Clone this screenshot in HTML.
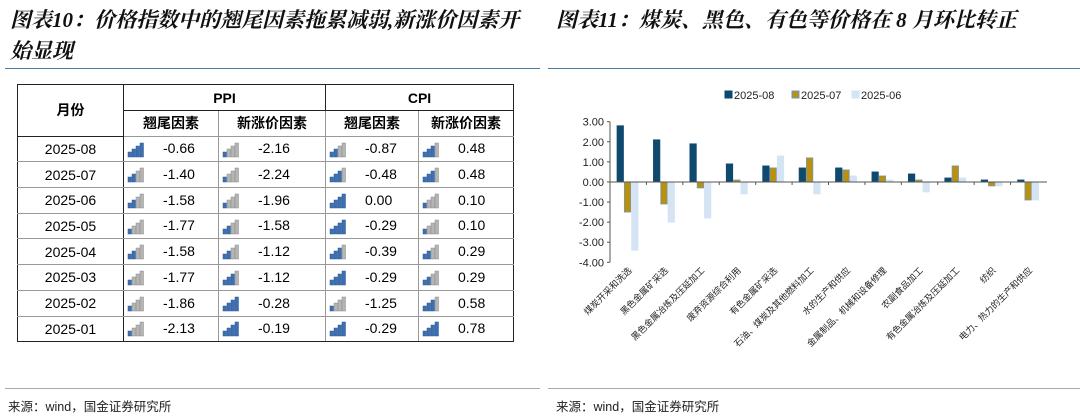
<!DOCTYPE html>
<html><head><meta charset="utf-8">
<style>
body{margin:0;width:1080px;height:416px;background:#fff;font-family:"Liberation Sans","Noto Sans CJK SC",sans-serif;position:relative;overflow:hidden}
.title{position:absolute;font-family:"Liberation Serif","Noto Serif CJK SC",serif;font-style:italic;font-weight:bold;font-size:21px;color:#111;line-height:31px;white-space:nowrap}
table{position:absolute;left:17px;top:84px;border-collapse:collapse;font-size:14px}
td{border:1px solid #999;text-align:center;padding:0;height:24.7px}
.b{border:1.5px solid #222}
.ic{display:inline-block;vertical-align:middle;margin-right:18px}
.foot{position:absolute;top:396px;font-size:12.5px;color:#222}
</style></head><body>
<div class="title" style="left:10px;top:5px">图表10：价格指数中的翘尾因素拖累减弱,新涨价因素开<br>始显现</div>
<div class="title" style="left:556px;top:5px">图表11：煤炭、黑色、有色等价格在 8 月环比转正</div>
<div style="position:absolute;left:5px;top:68px;width:535px;height:1px;background:#4a7fa8"></div>
<div style="position:absolute;left:548px;top:68px;width:532px;height:1px;background:#4a7fa8"></div>
<div style="position:absolute;left:5px;top:388px;width:535px;height:1px;background:#aaa"></div>
<div style="position:absolute;left:548px;top:388px;width:532px;height:1px;background:#aaa"></div>
<div class="foot" style="left:8px">来源：wind，国金证券研究所</div>
<div class="foot" style="left:556px">来源：wind，国金证券研究所</div>

<table id="tbl">
<tr style="height:26px"><td class="b" rowspan="2" style="width:105px;font-weight:bold">月份</td><td class="b" colspan="2" style="font-weight:bold">PPI</td><td class="b" colspan="2" style="font-weight:bold">CPI</td></tr>
<tr style="height:23px"><td style="width:94px;font-weight:bold;border-left:1.5px solid #222">翘尾因素</td><td style="width:106px;font-weight:bold;border-left:1.5px solid #222">新涨价因素</td><td style="width:92px;font-weight:bold;border-left:1.5px solid #222">翘尾因素</td><td style="width:94px;font-weight:bold;border-left:1.5px solid #222;border-right:1.5px solid #222">新涨价因素</td></tr>
</table>

<svg id="chart" width="1080" height="416" style="position:absolute;left:0;top:0"></svg>

<script>
const months=["2025-08","2025-07","2025-06","2025-05","2025-04","2025-03","2025-02","2025-01"];
const ppiCarry=["-0.66","-1.40","-1.58","-1.77","-1.58","-1.77","-1.86","-2.13"];
const ppiNew=["-2.16","-2.24","-1.96","-1.58","-1.12","-1.12","-0.28","-0.19"];
const cpiCarry=["-0.87","-0.48","0.00","-0.29","-0.39","-0.29","-1.25","-0.29"];
const cpiNew=["0.48","0.48","0.10","0.10","0.29","0.29","0.58","0.78"];
const lv=[[4,1,2,3],[2,1,3,3],[2,1,4,1],[1,2,4,1],[2,2,3,2],[1,3,4,2],[1,4,1,3],[1,4,4,4]];
function icon(n){let s='<svg class="ic" width="18" height="16">';for(let i=0;i<4;i++){const h=5+i*3;s+=`<rect x="${i*4+1}" y="${15-h}" width="3.5" height="${h}" fill="${i<n?'#3f6fb0':'#b5b5b5'}" stroke="${i<n?'#2d5a96':'#8a8a8a'}" stroke-width="0.5"/>`;}return s+'</svg>';}
const tb=document.getElementById('tbl');
months.forEach((m,r)=>{const tr=document.createElement('tr');


const vals=[ppiCarry[r],ppiNew[r],cpiCarry[r],cpiNew[r]];
let h=`<td style="border-left:1.5px solid #222;border-right:1.5px solid #222${r==7?';border-bottom:1.5px solid #222':''}">${m}</td>`;
vals.forEach((v,c)=>{h+=`<td style="text-align:left;padding-left:3px;${c%2==0?'border-left:1.5px solid #222;':''}${c==3?'border-right:1.5px solid #222;':''}${r==7?'border-bottom:1.5px solid #222;':''}">${icon(lv[r][c])}${v}</td>`;});
tr.innerHTML=h;tb.appendChild(tr);});

const cats=["煤炭开采和洗选","黑色金属矿采选","黑色金属冶炼及压延加工","废弃资源综合利用","有色金属矿采选","石油、煤炭及其他燃料加工","水的生产和供应","金属制品、机械和设备修理","农副食品加工","有色金属冶炼及压延加工","纺织","电力、热力的生产和供应"];
const s08=[2.8,2.1,1.9,0.9,0.8,0.7,0.7,0.5,0.4,0.2,0.1,0.1];
const s07=[-1.5,-1.1,-0.3,0.1,0.7,1.2,0.6,0.3,0.1,0.8,-0.2,-0.9];
const s06=[-3.4,-2.0,-1.8,-0.6,1.3,-0.6,0.3,0.1,-0.5,0.2,-0.2,-0.9];
const ticks=[3,2,1,0,-1,-2,-3,-4];
const tickLabels=["3.00","2.00","1.00","0.00","-1.00","-2.00","-3.00","-4.00"];
const X0=610,X1=1047,Y3=121.7,Ym4=262.3;
const y=v=>Y3+(3-v)*(Ym4-Y3)/7;
const gw=(X1-X0)/cats.length;
const svg=document.getElementById('chart');const NS='http://www.w3.org/2000/svg';
function el(t,a,txt){const e=document.createElementNS(NS,t);for(const k in a)e.setAttribute(k,a[k]);if(txt!==undefined)e.textContent=txt;svg.appendChild(e);return e;}
let e=el('line',{x1:X0,y1:Y3,x2:X0,y2:Ym4,stroke:'#555','stroke-width':1});


ticks.forEach((t,i)=>{const yy=y(t);
const l=el('line',{x1:X0-3,y1:yy,x2:X0,y2:yy,stroke:'#555'});


const tx=el('text',{x:X0-6,y:yy+4,'text-anchor':'end','font-size':11,fill:'#222'},tickLabels[i]);

});
const series=[[s08,'#0f4a6e','#0f4a6e'],[s07,'#b8920f','#6f95c8'],[s06,'#d4e4f3','#d4e4f3']];
cats.forEach((c,i)=>{const gx=X0+i*gw;
series.forEach((s,k)=>{const v=s[0][i];const bx=gx+7+k*7.3;
const r=el('rect',{x:bx,y:Math.min(y(v),y(0)),width:6.5,height:Math.abs(y(v)-y(0)),fill:s[1],stroke:s[2],'stroke-width':0.7});

});
const tk=el('line',{x1:gx,y1:y(0),x2:gx,y2:y(0)+3,stroke:'#555'});


const cx=gx+gw/2+4;
const lb=el('text',{x:cx,y:271,'text-anchor':'end','font-size':9,fill:'#222',transform:`rotate(-45 ${cx} 271)`},c);

});
e=el('line',{x1:X0,y1:y(0),x2:X1,y2:y(0),stroke:'#555','stroke-width':1});


const leg=[["2025-08",725,'#0f4a6e','#0f4a6e'],["2025-07",792,'#b8920f','#6f95c8'],["2025-06",852,'#d4e4f3','#d4e4f3']];
leg.forEach(L=>{const r=el('rect',{x:L[1],y:91,width:7,height:7,fill:L[2],stroke:L[3]});


const t=el('text',{x:L[1]+9,y:99,'font-size':11,fill:'#222'},L[0]);

});
</script>
</body></html>
